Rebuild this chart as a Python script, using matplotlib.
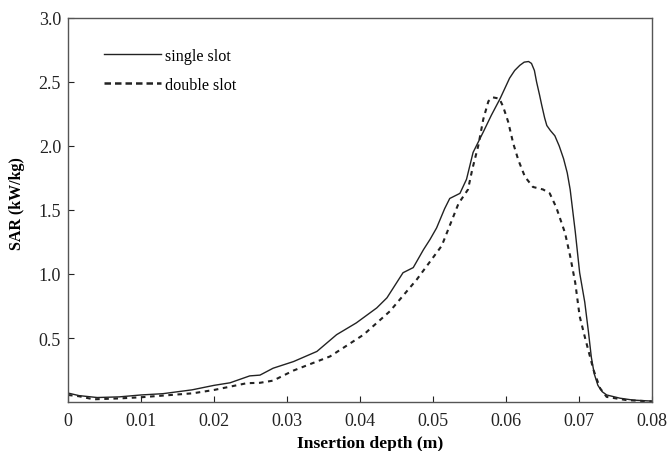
import matplotlib
matplotlib.use("Agg")
import matplotlib.pyplot as plt
from matplotlib.lines import Line2D

# SAR versus insertion depth for the two slot antenna designs
single_x = [0.0, 0.0015, 0.004, 0.007, 0.010, 0.013, 0.017, 0.020, 0.0222, 0.0249,
            0.0263, 0.0281, 0.0309, 0.0341, 0.0368, 0.0395, 0.0423, 0.0437, 0.0459,
            0.0473, 0.0487, 0.0496, 0.0505, 0.0516, 0.0523, 0.0537, 0.0546, 0.0555,
            0.0562, 0.0569, 0.0580, 0.0592, 0.0605, 0.0612, 0.0619, 0.0625, 0.0631,
            0.0635, 0.0639, 0.0642, 0.0646, 0.0649, 0.0653, 0.0656, 0.0661, 0.0667,
            0.0673, 0.0679, 0.0684, 0.0688, 0.0695, 0.0701, 0.0708, 0.0713, 0.0717,
            0.0721, 0.0726, 0.0732, 0.0738, 0.0756, 0.0774, 0.0797, 0.080]
single_y = [0.07, 0.05, 0.035, 0.04, 0.055, 0.065, 0.095, 0.13, 0.15, 0.204,
            0.21, 0.264, 0.316, 0.395, 0.526, 0.618, 0.735, 0.814, 1.01,
            1.05, 1.19, 1.27, 1.36, 1.51, 1.59, 1.63, 1.74, 1.95,
            2.03, 2.11, 2.24, 2.37, 2.53, 2.59, 2.63, 2.655, 2.66,
            2.645, 2.59, 2.50, 2.40, 2.32, 2.22, 2.16, 2.12, 2.08,
            2.00, 1.90, 1.79, 1.66, 1.33, 1.01, 0.78, 0.55, 0.35,
            0.22, 0.13, 0.08, 0.055, 0.03, 0.015, 0.008, 0.007]

double_x = [0.0, 0.0015, 0.0035, 0.007, 0.010, 0.0171, 0.020, 0.0245, 0.0263,
            0.0281, 0.0309, 0.0359, 0.0405, 0.0441, 0.0478, 0.0512, 0.0535,
            0.0548, 0.0554, 0.0562, 0.0569, 0.0576, 0.0582, 0.0591, 0.0596,
            0.0603, 0.0610, 0.0617, 0.0626, 0.0637, 0.0651, 0.0660, 0.0669,
            0.0681, 0.0688, 0.0695, 0.0701, 0.0708, 0.0714, 0.0720, 0.0729,
            0.0738, 0.0765, 0.0797, 0.080]
double_y = [0.055, 0.045, 0.021, 0.028, 0.037, 0.068, 0.094, 0.147, 0.15,
            0.167, 0.246, 0.356, 0.526, 0.709, 0.958, 1.22, 1.55,
            1.66, 1.82, 2.00, 2.21, 2.35, 2.38, 2.37, 2.31,
            2.19, 2.02, 1.89, 1.76, 1.68, 1.66, 1.63, 1.52,
            1.32, 1.14, 0.93, 0.67, 0.51, 0.38, 0.25, 0.107,
            0.04, 0.015, 0.005, 0.005]

x_ticks = [0, 0.01, 0.02, 0.03, 0.04, 0.05, 0.06, 0.07, 0.08]
x_tick_labels = ["0", "0.01", "0.02", "0.03", "0.04", "0.05", "0.06", "0.07", "0.08"]
y_ticks = [0.5, 1.0, 1.5, 2.0, 2.5, 3.0]
y_tick_labels = ["0.5", "1.0", "1.5", "2.0", "2.5", "3.0"]
series_names = ["single slot", "double slot"]

plt.rcParams["font.family"] = ["Liberation Serif", "DejaVu Serif"]

fig = plt.figure(figsize=(6.7, 4.52), dpi=100)
ax = fig.add_axes([0.1015, 0.1084, 0.8715, 0.8496])

ink = "#222222"
ax.plot(single_x, single_y, color=ink, lw=1.0, ls="-")
ax.plot(double_x, double_y, color=ink, lw=1.5, ls=(0, (2.2, 2.2)))

ax.set_xlim(0, 0.08)
ax.set_ylim(0, 3.0)
ax.set_xticks(x_ticks)
ax.set_xticklabels(x_tick_labels)
ax.set_yticks(y_ticks)
ax.set_yticklabels(y_tick_labels)
ax.tick_params(direction="in", length=4, width=0.8, labelsize=13, colors=ink, pad=5)
ax.tick_params(axis="x", pad=7)

for s in ax.spines.values():
    s.set_color("#555555")
    s.set_linewidth(1.0)

ax.set_xlabel("Insertion depth (m)", fontsize=12.6, fontweight="bold")
ax.xaxis.set_label_coords(0.517, -0.085)
ax.set_ylabel("SAR (kW/kg)", fontsize=11.5, fontweight="bold")
ax.yaxis.set_label_coords(-0.074, 0.52)

handles = [Line2D([], [], color=ink, lw=1.0, ls="-"),
           Line2D([], [], color=ink, lw=1.8, ls=(0, (2.6, 1.6)))]
ax.legend(handles, series_names, loc="upper left", bbox_to_anchor=(0.062, 0.922),
          frameon=False, fontsize=11.6, handlelength=3.5, handletextpad=0.25,
          labelspacing=0.8, borderpad=0, borderaxespad=0)

fig.savefig("out.png", dpi=100)
